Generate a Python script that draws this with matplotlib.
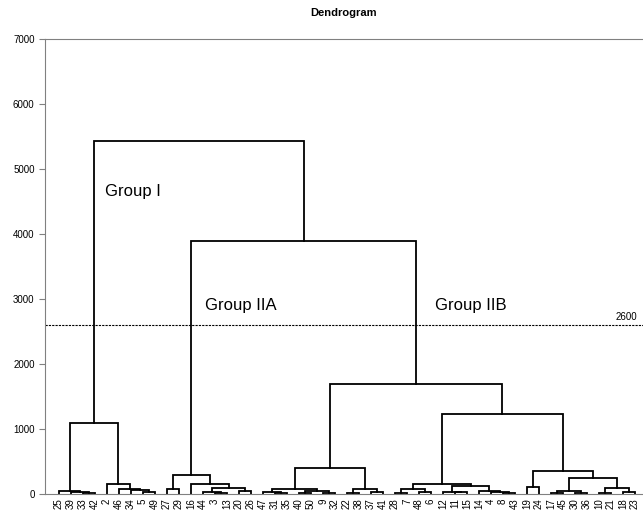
import matplotlib
matplotlib.use("Agg")
import matplotlib.pyplot as plt

plt.rcParams['font.family'] = ['Liberation Sans', 'DejaVu Sans']

# leaf labels in dendrogram order
leaf_labels = [25, 39, 33, 42, 2, 46, 34, 5, 49, 27, 29, 16, 44, 3, 13, 20, 26,
               47, 31, 35, 40, 50, 9, 32, 22, 38, 37, 41, 28, 7, 48, 6, 12, 11,
               15, 14, 4, 8, 43, 19, 24, 17, 45, 30, 36, 10, 21, 18, 23]

# merges: node ids < 49 are leaves (by position), node 49+k is merge k
merge_left = [2, 1, 0, 7, 6, 5, 4, 51,
              9, 13, 12, 15, 59, 11, 57,
              18, 17, 20, 22, 66, 65, 24, 26, 70, 69,
              28, 30, 74, 33, 32, 37, 36, 35, 78, 76,
              39, 41, 43, 85, 45, 47, 88, 87, 84, 83, 73, 63, 56]
merge_right = [3, 49, 50, 8, 52, 53, 54, 55,
               10, 14, 58, 16, 60, 61, 62,
               19, 64, 21, 23, 67, 68, 25, 27, 71, 72,
               29, 31, 75, 34, 77, 38, 79, 80, 81, 82,
               40, 42, 44, 86, 46, 48, 89, 90, 91, 92, 93, 94, 95]
merge_height = [15, 25, 40, 35, 60, 75, 150, 1090,
                80, 15, 35, 40, 85, 155, 290,
                15, 25, 15, 20, 40, 80, 20, 35, 80, 400,
                20, 35, 75, 25, 35, 15, 25, 40, 125, 150,
                110, 20, 15, 40, 15, 25, 90, 245, 360, 1230, 1700, 3890, 5430]

cut_level = 2600
group_names = ["Group I", "Group IIA", "Group IIB"]
group_pos = [(3.8, 4650), (12.2, 2900), (31.3, 2900)]

fig = plt.figure(figsize=(6.43, 5.2), dpi=100)
ax = fig.add_axes([0.07, 0.05, 0.93, 0.875])

n = len(leaf_labels)
xs = list(range(n))
hs = [0.0] * n
for a, b, h in zip(merge_left, merge_right, merge_height):
    ax.plot([xs[a], xs[a], xs[b], xs[b]], [hs[a], h, h, hs[b]],
            color='black', lw=1.3, solid_joinstyle='miter')
    xs.append((xs[a] + xs[b]) / 2)
    hs.append(h)

ax.axhline(cut_level, color='black', lw=0.8, ls=(0, (2, 1)))
ax.text(48.2, cut_level + 40, str(cut_level), ha='right', va='bottom', fontsize=7)

for name, (gx, gy) in zip(group_names, group_pos):
    ax.text(gx, gy, name, fontsize=12, ha='left', va='center')

ax.set_xlim(-1.17, 48.67)
ax.set_ylim(0, 7000)
ax.set_yticks(range(0, 7001, 1000))
ax.set_xticks(range(n))
ax.set_xticklabels([str(v) for v in leaf_labels], rotation=90, fontsize=7)
ax.tick_params(axis='x', length=0, pad=3)
ax.tick_params(axis='y', labelsize=7, length=4, color='#808080', width=0.8)

for side in ['left', 'top', 'bottom']:
    ax.spines[side].set_color('#808080')
    ax.spines[side].set_linewidth(0.8)
ax.spines['right'].set_visible(False)

fig.text(0.535, 0.975, "Dendrogram", ha='center', va='center',
         fontsize=8, fontweight='bold')

fig.savefig("out.png", dpi=100)
